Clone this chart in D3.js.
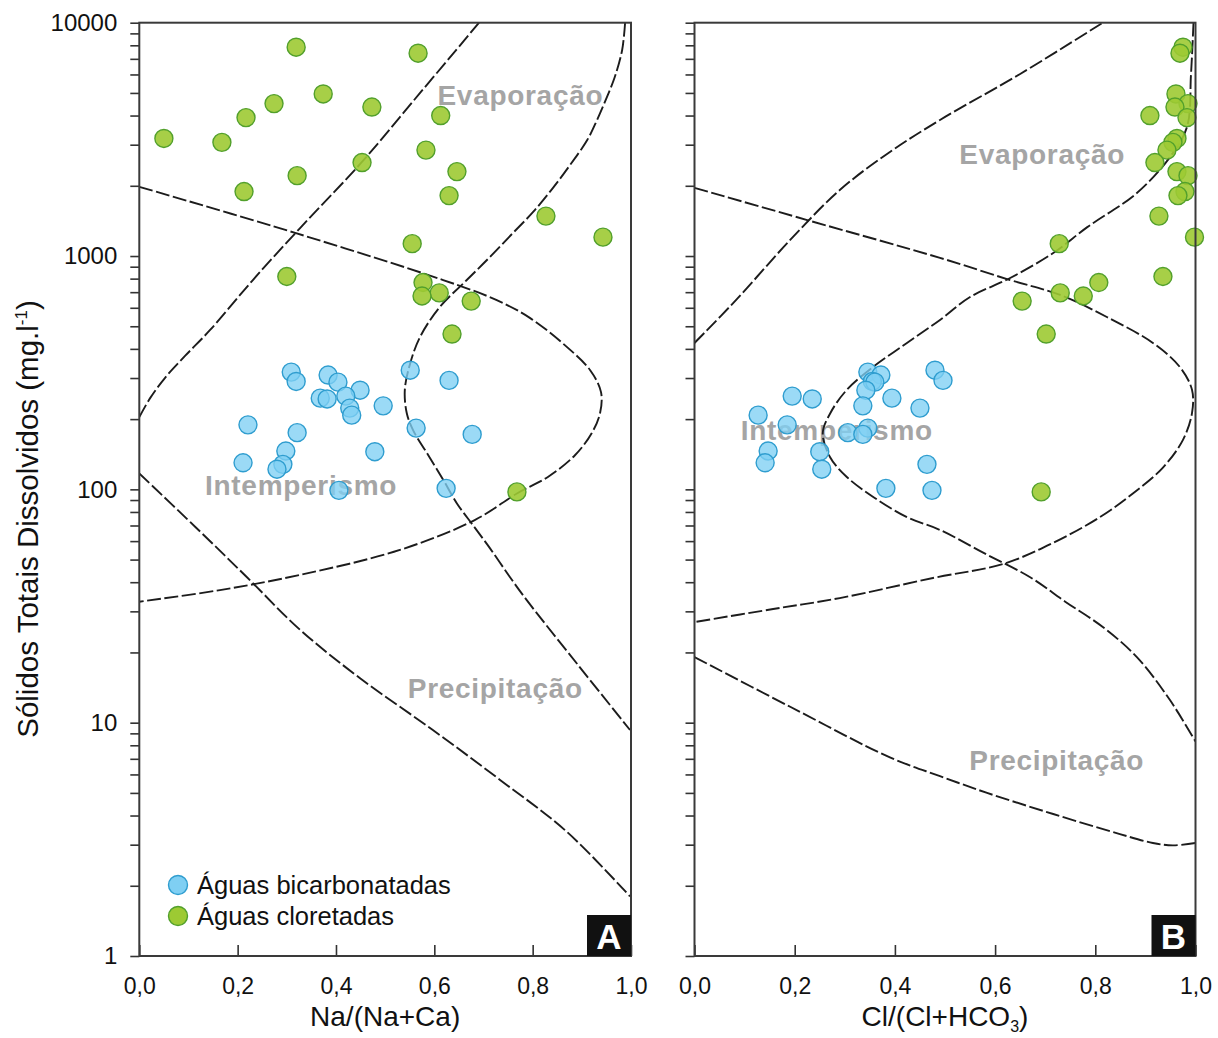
<!DOCTYPE html>
<html>
<head>
<meta charset="utf-8">
<script src="https://cdn.jsdelivr.net/npm/d3@7"></script>
<style>
  body { margin: 0; background: #fff; }
  text { font-family: "Liberation Sans", Arial, sans-serif; }
</style>
</head>
<body>
<div id="viz"></div>
<script>
// ---- data ----
// águas bicarbonatadas: TDS (mg/l), Na/(Na+Ca), Cl/(Cl+HCO3)
const bicTds = [324, 318, 309, 293, 290, 288, 266, 251, 246, 244, 228, 223, 208, 189, 183, 175, 172, 146, 145, 130, 128, 122, 101, 99]
const bicNa  = [0.551, 0.309, 0.384, 0.630, 0.319, 0.404, 0.449, 0.420, 0.368, 0.382, 0.496, 0.428, 0.432, 0.221, 0.563, 0.321, 0.677, 0.298, 0.479, 0.211, 0.292, 0.280, 0.624, 0.406]
const bicCl  = [0.480, 0.346, 0.372, 0.496, 0.355, 0.360, 0.342, 0.195, 0.394, 0.235, 0.336, 0.450, 0.127, 0.185, 0.346, 0.306, 0.336, 0.147, 0.250, 0.141, 0.464, 0.254, 0.382, 0.474]

// águas cloretadas
const clorTds = [7850, 7400, 4950, 4500, 4350, 4000, 3920, 3190, 3070, 2845, 2515, 2300, 2210, 1890, 1815, 1483, 1205, 1130, 817, 770, 695, 674, 641, 463, 97.5]
const clorNa  = [0.319, 0.567, 0.374, 0.274, 0.473, 0.613, 0.217, 0.050, 0.168, 0.583, 0.453, 0.646, 0.321, 0.213, 0.630, 0.827, 0.943, 0.555, 0.300, 0.577, 0.610, 0.575, 0.675, 0.636, 0.768]
const clorCl  = [0.975, 0.969, 0.961, 0.985, 0.959, 0.909, 0.983, 0.963, 0.955, 0.943, 0.919, 0.963, 0.985, 0.979, 0.965, 0.927, 0.998, 0.728, 0.935, 0.807, 0.730, 0.776, 0.654, 0.702, 0.692]

// Gibbs boundaries [ratio, TDS]
const curvesA = [
  [[0, 204], [0.022, 246], [0.052, 300], [0.093, 373], [0.144, 482], [0.231, 789], [0.327, 1318], [0.451, 2505], [0.571, 5000], [0.691, 10000]],
  [[0, 1980], [0.317, 1256], [0.618, 789], [0.727, 647], [0.795, 542], [0.870, 407], [0.917, 324], [0.939, 261], [0.937, 212], [0.920, 174], [0.886, 140], [0.831, 113], [0.768, 96], [0.683, 74], [0.530, 55], [0.327, 43], [0.164, 37], [0, 33]],
  [[0.988, 10000], [0.982, 7640], [0.967, 5850], [0.951, 4800], [0.931, 3830], [0.911, 3140], [0.876, 2455], [0.841, 1955], [0.801, 1545], [0.760, 1256], [0.713, 990], [0.666, 789], [0.611, 604], [0.571, 450], [0.551, 347], [0.540, 267], [0.544, 212], [0.557, 179], [0.585, 143], [0.618, 110], [0.646, 87], [0.679, 70], [0.713, 56], [0.754, 42], [0.788, 33.5], [0.892, 17.7], [0.998, 9.3]],
  [[0, 117], [0.114, 69], [0.219, 42], [0.327, 25], [0.449, 15.5], [0.597, 9.3], [0.733, 5.7], [0.870, 3.4], [0.998, 1.8]]
]
const curvesB = [
  [[0, 424], [0.085, 655], [0.191, 1172], [0.290, 1918], [0.390, 2793], [0.490, 3830], [0.650, 6030], [0.815, 10000]],
  [[0, 1960], [0.225, 1426], [0.490, 982], [0.630, 789], [0.730, 681], [0.823, 548], [0.915, 424], [0.969, 334], [0.993, 267], [0.993, 212], [0.975, 163], [0.935, 124], [0.875, 96], [0.809, 76], [0.716, 59], [0.616, 47.9], [0.476, 41.7], [0.290, 34.2], [0.157, 30.7], [0, 27]],
  [[0.996, 10000], [0.991, 6000], [0.983, 3573], [0.949, 2655], [0.883, 1862], [0.784, 1330], [0.716, 1030], [0.630, 805], [0.550, 667], [0.490, 532], [0.424, 424], [0.356, 334], [0.304, 267], [0.271, 212], [0.256, 174], [0.271, 137], [0.304, 113], [0.356, 93], [0.424, 76], [0.490, 67], [0.580, 53], [0.670, 42], [0.740, 33], [0.815, 25.7], [0.883, 19.1], [0.949, 12.5], [1.0, 8.3]],
  [[0, 19.1], [0.191, 11.7], [0.390, 7.1], [0.490, 5.9], [0.584, 5.0], [0.716, 4.06], [0.849, 3.33], [0.915, 3.05], [0.955, 2.98], [1.0, 3.05]]
]

// region names [text, ratio, TDS]
const labelsA = [["Evaporação", 0.775, 4900], ["Intemperismo", 0.329, 104], ["Precipitação", 0.724, 14]]
const labelsB = [["Evaporação", 0.694, 2735], ["Intemperismo", 0.284, 180], ["Precipitação", 0.723, 6.9]]

const yDecades = [1, 10, 100, 1000, 10000]
const xTickVals = [0, 0.2, 0.4, 0.6, 0.8, 1.0]
const legendNames = ["Águas bicarbonatadas", "Águas cloretadas"]

// ---- layout ----
let w = 1218
let h = 1038
let plotTop = 22.7
let plotBottom = 956

let blueFill = "#7fcff3", blueStroke = "#2f9dcf"
let greenFill = "#9dca33", greenStroke = "#52a02c"
let labelGray = "#a5a5a5"

const svg = d3.select("#viz")
  .append("svg")
  .attr("width", w)
  .attr("height", h)

const yScale = d3.scaleLog()
  .domain([1, 10000])
  .range([plotBottom, plotTop])

let yTickVals = []
yDecades.slice(0, 4).forEach(d => {
  for (let k = 1; k <= 9; k++) yTickVals.push(d * k)
})
yTickVals.push(10000)

const bicData = bicTds.map((t, i) => ({tds: t, na: bicNa[i], cl: bicCl[i]}))
const clorData = clorTds.map((t, i) => ({tds: t, na: clorNa[i], cl: clorCl[i]}))

const panels = [
  {key: "A", left: 139.3, right: 631, field: "na", curves: curvesA, labels: labelsA, showY: true},
  {key: "B", left: 694.5, right: 1195.5, field: "cl", curves: curvesB, labels: labelsB, showY: false}
]

panels.forEach(p => {
  const xScale = d3.scaleLinear()
    .domain([0, 1])
    .range([p.left, p.right])

  const g = svg.append("g")

  g.append("clipPath")
    .attr("id", "clip" + p.key)
    .append("rect")
    .attr("x", p.left)
    .attr("y", plotTop)
    .attr("width", p.right - p.left)
    .attr("height", plotBottom - plotTop)

  // y axis, ticks pointing out
  const yAxis = d3.axisLeft(yScale)
    .tickValues(yTickVals)
    .tickSize(9)
    .tickPadding(13)
    .tickFormat(d => (p.showY && yDecades.includes(d)) ? d : "")
  const yg = g.append("g")
    .attr("transform", `translate(${p.left},0)`)
    .call(yAxis)
  yg.select(".domain").remove()
  yg.selectAll("line").attr("stroke", "#333").attr("stroke-width", 1.6)
  yg.selectAll("text").attr("font-size", 24).attr("fill", "#111")
    .style("font-family", "'Liberation Sans', Arial, sans-serif")

  // x axis, ticks pointing in
  const xAxis = d3.axisBottom(xScale)
    .tickValues(xTickVals)
    .tickSize(-11)
    .tickPadding(22)
    .tickFormat(d => d3.format(".1f")(d).replace(".", ","))
  const xg = g.append("g")
    .attr("transform", `translate(0,${plotBottom})`)
    .call(xAxis)
  xg.select(".domain").remove()
  xg.selectAll("line").attr("stroke", "#333").attr("stroke-width", 1.6)
  xg.selectAll("text").attr("font-size", 23).attr("fill", "#111")
    .style("font-family", "'Liberation Sans', Arial, sans-serif")

  // region names (under the points, as in the figure)
  g.selectAll("text.region")
    .data(p.labels)
    .enter()
    .append("text")
    .attr("class", "region")
    .attr("x", d => xScale(d[1]))
    .attr("y", d => yScale(d[2]))
    .attr("dy", "0.35em")
    .attr("text-anchor", "middle")
    .attr("font-size", 28)
    .attr("font-weight", "bold")
    .attr("letter-spacing", 0.7)
    .attr("fill", labelGray)
    .text(d => d[0])

  // dashed boundaries
  const line = d3.line()
    .x(d => xScale(d[0]))
    .y(d => yScale(d[1]))
    .curve(d3.curveCatmullRom.alpha(0.5))

  g.append("g")
    .attr("clip-path", `url(#clip${p.key})`)
    .selectAll("path")
    .data(p.curves)
    .enter()
    .append("path")
    .attr("d", line)
    .attr("fill", "none")
    .attr("stroke", "#1c1c1c")
    .attr("stroke-width", 1.9)
    .attr("stroke-dasharray", "14,3.5")

  // points
  const pts = g.append("g")
  pts.selectAll("circle.clor")
    .data(clorData)
    .enter()
    .append("circle")
    .attr("class", "clor")
    .attr("cx", d => xScale(d[p.field]))
    .attr("cy", d => yScale(d.tds))
    .attr("r", 9)
    .attr("fill", greenFill)
    .attr("fill-opacity", 0.9)
    .attr("stroke", greenStroke)
    .attr("stroke-width", 1.4)

  pts.selectAll("circle.bic")
    .data(bicData)
    .enter()
    .append("circle")
    .attr("class", "bic")
    .attr("cx", d => xScale(d[p.field]))
    .attr("cy", d => yScale(d.tds))
    .attr("r", 9)
    .attr("fill", blueFill)
    .attr("fill-opacity", 0.78)
    .attr("stroke", blueStroke)
    .attr("stroke-width", 1.4)

  // frame
  g.append("rect")
    .attr("x", p.left)
    .attr("y", plotTop)
    .attr("width", p.right - p.left)
    .attr("height", plotBottom - plotTop)
    .attr("fill", "none")
    .attr("stroke", "#3a3a3a")
    .attr("stroke-width", 2)

  // panel letter
  g.append("rect")
    .attr("x", p.right - 44)
    .attr("y", plotBottom - 41)
    .attr("width", 44)
    .attr("height", 41)
    .attr("fill", "#111")
  g.append("text")
    .attr("x", p.right - 22)
    .attr("y", plotBottom - 7)
    .attr("text-anchor", "middle")
    .attr("font-size", 35)
    .attr("font-weight", "bold")
    .attr("fill", "#fff")
    .text(p.key)

  // x title
  const xt = g.append("text")
    .attr("x", (p.left + p.right) / 2)
    .attr("y", 1026)
    .attr("text-anchor", "middle")
    .attr("font-size", 28)
    .attr("fill", "#111")
  if (p.key == "A") {
    xt.text("Na/(Na+Ca)")
  } else {
    xt.append("tspan").text("Cl/(Cl+HCO")
    xt.append("tspan").attr("font-size", 16).attr("dy", 6).text("3")
    xt.append("tspan").attr("dy", -6).text(")")
  }

  // legend in panel A
  if (p.key == "A") {
    const leg = g.append("g")
    const fills = [[blueFill, blueStroke], [greenFill, greenStroke]]
    legendNames.forEach((name, i) => {
      leg.append("circle")
        .attr("cx", 178)
        .attr("cy", 885 + i * 31)
        .attr("r", 9.5)
        .attr("fill", fills[i][0])
        .attr("stroke", fills[i][1])
        .attr("stroke-width", 1.4)
      leg.append("text")
        .attr("x", 197)
        .attr("y", 894 + i * 31)
        .attr("font-size", 25.5)
        .attr("fill", "#111")
        .text(name)
    })
  }
})

// y title
const yt = svg.append("text")
  .attr("transform", "translate(38,519) rotate(-90)")
  .attr("text-anchor", "middle")
  .attr("font-size", 29.5)
  .attr("fill", "#111")
yt.append("tspan").text("Sólidos Totais Dissolvidos (mg.l")
yt.append("tspan").attr("font-size", 17).attr("dy", -11).text("-1")
yt.append("tspan").attr("dy", 11).text(")")
</script>
</body>
</html>
